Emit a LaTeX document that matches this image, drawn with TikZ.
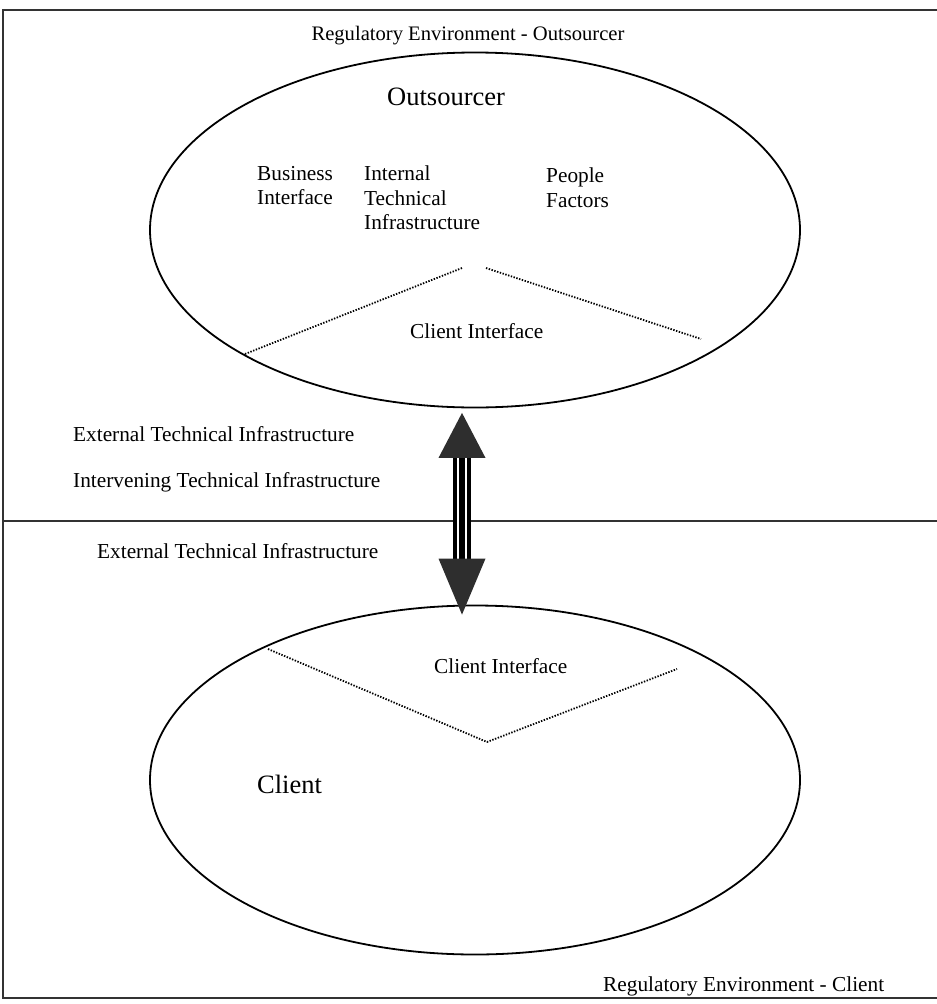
\documentclass[tikz,border=0pt]{standalone}
\usepackage{fontspec}
\setmainfont{Liberation Serif}
\usetikzlibrary{shapes.geometric,calc}
\tikzset{
  txt/.style={inner sep=0pt, font=\fontsize{21.3}{24.5}\selectfont},
  regtxt/.style={inner sep=0pt, font=\fontsize{20.6}{24.5}\selectfont},
  bigtxt/.style={inner sep=0pt, font=\fontsize{26.5}{30}\selectfont},
  party/.style={draw, ellipse, line width=1.8pt, inner sep=0pt},
  frame/.style={line width=1.1pt, black!80},
  dots/.style={line width=1.8pt, dash pattern=on 1.4pt off 1.5pt},
  headfill/.style={fill=black!82},
}
\begin{document}
\begin{tikzpicture}[x=1pt,y=-1pt]
\useasboundingbox (0,0) rectangle (937,1004);
% frame
\draw[frame] (937,10) -- (3,10) -- (3,998) -- (937,998);
\draw[frame] (3,521) -- (937,521);
% ellipses
\node[party, minimum width=650pt, minimum height=355pt] (outs) at (475,230) {};
\node[party, minimum width=650pt, minimum height=349pt] (cli) at (475,780) {};
% texts
\node[regtxt, anchor=base] (regO) at (468,40) {Regulatory Environment - Outsourcer};
\node[bigtxt, anchor=base west] (tO) at (387,105) {Outsourcer};
\node[txt, anchor=north west, align=left] (bi) at (257,166) {Business\\Interface};
\node[txt, anchor=north west, align=left] (iti) at (364,166) {Internal\\Technical\\Infrastructure};
\node[txt, anchor=north west, align=left] (pf) at (546,168) {People\\Factors};
\node[txt, anchor=base west] (ci1) at (410,338) {Client Interface};
\node[txt, anchor=base west] (eti1) at (73,441) {External Technical Infrastructure};
\node[txt, anchor=base west] (iv) at (73,487) {Intervening Technical Infrastructure};
\node[txt, anchor=base west] (eti2) at (97,558) {External Technical Infrastructure};
\node[txt, anchor=base west] (ci2) at (434,673) {Client Interface};
\node[bigtxt, anchor=base west] (tC) at (257,793) {Client};
\node[txt, anchor=base west] (regC) at (603,991) {Regulatory Environment - Client};
% dotted interface borders
\coordinate (d1) at (245,354);
\coordinate (d2) at (462,268);
\coordinate (d3) at (486,268);
\coordinate (d4) at (701,339);
\draw[dots] (d1) -- (d2);
\draw[dots] (d3) -- (d4);
\coordinate (e1) at (268,649);
\coordinate (e2) at (487,742);
\coordinate (e3) at (677,669);
\draw[dots] (e1) -- (e2) -- (e3);
% double-headed link between the parties
\coordinate (atop) at ([xshift=-13pt,yshift=-4.5pt]outs.south);
\coordinate (abot) at ([xshift=-13pt,yshift=-10pt]cli.north);
\draw[line width=18pt] ($(atop)+(0,44)$) -- ($(abot)+(0,-55)$);
\draw[white, line width=10pt] ($(atop)+(0,44)$) -- ($(abot)+(0,-55)$);
\draw[line width=6pt] ($(atop)+(0,44)$) -- ($(abot)+(0,-55)$);
\fill[headfill] (atop) -- ++(-23.5,45) -- ++(47,0) -- cycle;
\fill[headfill] (abot) -- ++(-23.5,-56) -- ++(47,0) -- cycle;
\end{tikzpicture}
\end{document}
